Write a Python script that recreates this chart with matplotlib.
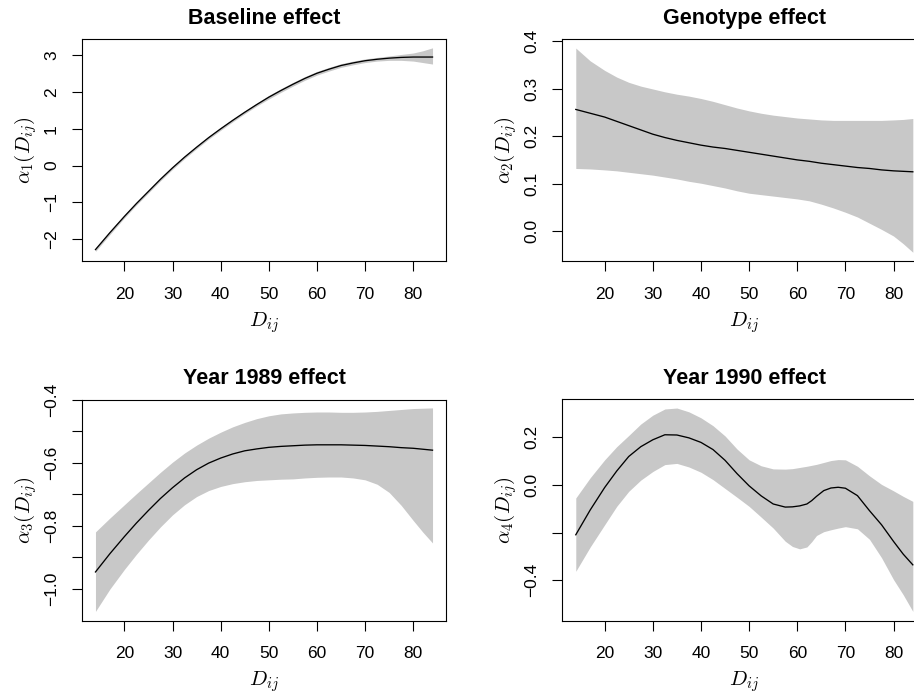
import matplotlib
matplotlib.use('Agg')
import matplotlib.pyplot as plt

plt.rcParams['font.family'] = ['Liberation Sans', 'DejaVu Sans']
plt.rcParams['mathtext.fontset'] = 'cm'

# distance grid D_ij
d = [14, 17, 20, 22.5, 25, 27.5, 30, 32.5, 35, 37.5, 40, 42.5, 45, 47.5, 50,
     52.5, 55, 57.5, 60, 62.5, 65, 67.5, 70, 72.5, 75, 77.5, 80, 82, 84]

# baseline effect alpha_1
base_fit = [-2.28, -1.82, -1.38, -1.03, -0.70, -0.37, -0.06, 0.23, 0.50, 0.76, 1.00,
            1.23, 1.45, 1.66, 1.86, 2.04, 2.21, 2.37, 2.51, 2.62, 2.72, 2.79, 2.85,
            2.89, 2.92, 2.94, 2.95, 2.95, 2.95]
base_lo = [-2.33, -1.87, -1.42, -1.07, -0.74, -0.41, -0.10, 0.19, 0.46, 0.72, 0.96,
           1.19, 1.41, 1.62, 1.81, 1.99, 2.16, 2.32, 2.46, 2.57, 2.67, 2.74, 2.80,
           2.84, 2.86, 2.86, 2.84, 2.80, 2.76]
base_hi = [-2.23, -1.77, -1.34, -0.99, -0.66, -0.33, -0.02, 0.27, 0.54, 0.80, 1.04,
           1.27, 1.49, 1.70, 1.91, 2.09, 2.26, 2.42, 2.56, 2.67, 2.77, 2.84, 2.90,
           2.94, 2.98, 3.02, 3.06, 3.12, 3.20]

# genotype effect alpha_2
geno_fit = [0.256, 0.248, 0.240, 0.231, 0.222, 0.213, 0.204, 0.197, 0.191, 0.186, 0.181,
            0.177, 0.174, 0.170, 0.166, 0.162, 0.158, 0.154, 0.150, 0.147, 0.143, 0.140,
            0.137, 0.134, 0.132, 0.129, 0.127, 0.126, 0.125]
geno_lo = [0.132, 0.131, 0.129, 0.127, 0.124, 0.121, 0.118, 0.114, 0.110, 0.105, 0.101,
           0.096, 0.091, 0.085, 0.080, 0.077, 0.074, 0.071, 0.068, 0.064, 0.057, 0.049,
           0.040, 0.030, 0.017, 0.004, -0.010, -0.026, -0.044]
geno_hi = [0.385, 0.358, 0.338, 0.324, 0.313, 0.305, 0.299, 0.293, 0.288, 0.284, 0.279,
           0.273, 0.266, 0.259, 0.253, 0.248, 0.244, 0.241, 0.238, 0.236, 0.234, 0.233,
           0.233, 0.233, 0.233, 0.233, 0.234, 0.235, 0.237]

# year 1989 effect alpha_3
y89_fit = [-0.946, -0.888, -0.834, -0.791, -0.751, -0.713, -0.679, -0.648, -0.622, -0.601,
           -0.585, -0.572, -0.562, -0.556, -0.551, -0.548, -0.546, -0.544, -0.543, -0.543,
           -0.543, -0.544, -0.545, -0.547, -0.549, -0.552, -0.554, -0.557, -0.560]
y89_lo = [-1.071, -1.000, -0.938, -0.890, -0.845, -0.803, -0.765, -0.733, -0.707, -0.688,
          -0.675, -0.666, -0.660, -0.656, -0.654, -0.652, -0.651, -0.648, -0.646, -0.645,
          -0.645, -0.648, -0.654, -0.668, -0.694, -0.735, -0.783, -0.820, -0.854]
y89_hi = [-0.819, -0.775, -0.733, -0.698, -0.664, -0.630, -0.598, -0.569, -0.544, -0.522,
          -0.503, -0.486, -0.472, -0.460, -0.451, -0.445, -0.442, -0.440, -0.439, -0.439,
          -0.440, -0.440, -0.439, -0.437, -0.434, -0.431, -0.428, -0.427, -0.426]

# year 1990 effect alpha_4 (finer grid around the dip near 60)
d4 = [14, 17, 20, 22.5, 25, 27.5, 30, 32.5, 35, 37.5, 40, 42.5, 45, 47.5, 50, 52.5,
      55, 57.5, 59, 60.5, 62, 63, 64, 65.5, 67, 68.5, 70, 72.5, 75, 77.5, 80, 82, 84]
y90_fit = [-0.209, -0.105, -0.011, 0.058, 0.119, 0.160, 0.189, 0.210, 0.209, 0.197,
           0.178, 0.148, 0.103, 0.047, -0.004, -0.046, -0.080, -0.093, -0.092, -0.088,
           -0.080, -0.066, -0.048, -0.024, -0.013, -0.010, -0.014, -0.045, -0.108,
           -0.167, -0.237, -0.290, -0.335]
y90_lo = [-0.362, -0.260, -0.167, -0.090, -0.027, 0.020, 0.056, 0.085, 0.090, 0.075,
          0.053, 0.022, -0.015, -0.052, -0.090, -0.135, -0.181, -0.236, -0.258, -0.268,
          -0.260, -0.238, -0.212, -0.196, -0.188, -0.181, -0.175, -0.184, -0.228,
          -0.305, -0.397, -0.460, -0.530]
y90_hi = [-0.055, 0.030, 0.105, 0.160, 0.207, 0.255, 0.292, 0.318, 0.322, 0.306,
          0.281, 0.248, 0.205, 0.150, 0.105, 0.080, 0.067, 0.066, 0.068, 0.073,
          0.078, 0.082, 0.086, 0.094, 0.102, 0.106, 0.105, 0.078, 0.038, 0.002,
          -0.025, -0.048, -0.069]

W, H = 914, 698
fig = plt.figure(figsize=(W / 100, H / 100), dpi=100)


def panel(box, x, fit, lo, hi, title, ylab, ylim, yticks, ylabels):
    left, top, right, bottom = box
    ax = fig.add_axes([left / W, 1 - bottom / H, (right - left) / W, (bottom - top) / H])
    ax.fill_between(x, lo, hi, color='#c8c8c8', linewidth=0)
    ax.plot(x, fit, color='black', lw=0.95)
    ax.set_xlim(11.2, 86.8)
    ax.set_ylim(*ylim)
    ax.set_xticks([20, 30, 40, 50, 60, 70, 80])
    ax.set_yticks(yticks, labels=ylabels)
    ax.tick_params(direction='out', length=7.5, width=0.8, labelsize=12.5)
    ax.tick_params(axis='x', pad=11)
    ax.tick_params(axis='y', pad=9, labelrotation=90)
    for lab in ax.get_yticklabels():
        lab.set_va('center')
    for sp in ax.spines.values():
        sp.set_linewidth(0.8)
    ax.set_title(title, fontsize=15.5, fontweight='bold', pad=11)
    ax.set_xlabel(r'$D_{ij}$', fontsize=15, labelpad=6)
    ax.set_ylabel(ylab, fontsize=15, labelpad=4)
    return ax


panel((82, 39, 446, 261), d, base_fit, base_lo, base_hi, 'Baseline effect',
      r'$\alpha_1(D_{ij})$', (-2.59, 3.44),
      [-2, -1, 0, 1, 2, 3], ['\u22122', '\u22121', '0', '1', '2', '3'])
panel((562.3, 39, 926.3, 261), d, geno_fit, geno_lo, geno_hi, 'Genotype effect',
      r'$\alpha_2(D_{ij})$', (-0.0624, 0.404),
      [0.0, 0.1, 0.2, 0.3, 0.4], ['0.0', '0.1', '0.2', '0.3', '0.4'])
panel((82, 399.7, 446, 620.7), d, y89_fit, y89_lo, y89_hi, 'Year 1989 effect',
      r'$\alpha_3(D_{ij})$', (-1.1005, -0.40),
      [-1.0, -0.9, -0.8, -0.7, -0.6, -0.5, -0.4],
      ['\u22121.0', '', '\u22120.8', '', '\u22120.6', '', '\u22120.4'])
panel((562.3, 399.2, 926.3, 620.7), d4, y90_fit, y90_lo, y90_hi, 'Year 1990 effect',
      r'$\alpha_4(D_{ij})$', (-0.569, 0.359),
      [-0.4, -0.2, 0.0, 0.2], ['\u22120.4', '', '0.0', '0.2'])

fig.savefig('out.png', dpi=100)
